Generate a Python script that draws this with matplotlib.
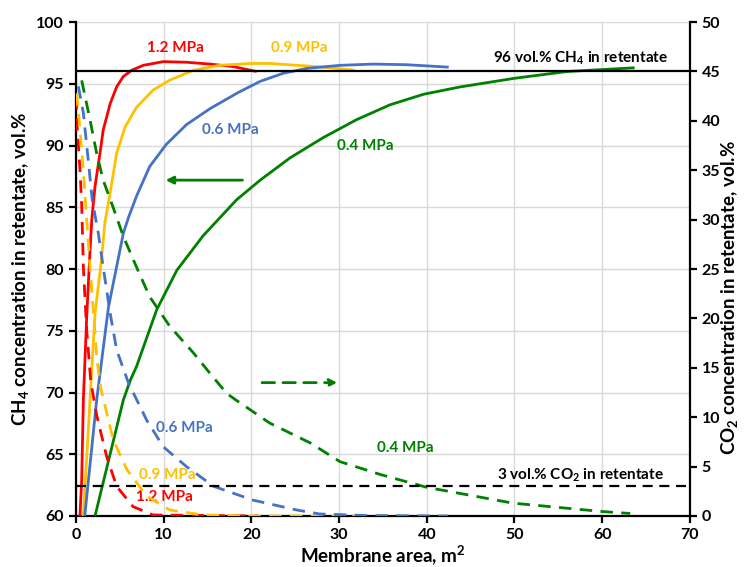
import matplotlib
matplotlib.use('Agg')
import matplotlib.pyplot as plt

plt.rcParams['font.family'] = ['Lato', 'DejaVu Sans']
plt.rcParams['font.weight'] = 'bold'
plt.rcParams['mathtext.fontset'] = 'custom'
plt.rcParams['mathtext.rm'] = 'Lato:bold'
plt.rcParams['mathtext.default'] = 'rm'

# CH4 in retentate (left axis) vs membrane area, m2
ch4_12_x = [0.45, 0.65, 0.84, 1.22, 1.6, 1.8, 2.17, 2.74, 3.1, 3.9, 4.64, 5.4, 6.35,
            7.67, 9.96, 12.6, 15.3, 17.9, 20.6]
ch4_12_y = [60, 62.9, 69.4, 76.1, 81.5, 84.0, 86.7, 89.4, 91.25, 93.4, 94.76, 95.6, 96.1,
            96.5, 96.8, 96.75, 96.6, 96.4, 96.0]
ch4_09_x = [0.84, 1.6, 2.17, 2.9, 3.3, 3.9, 4.64, 5.6, 6.9, 8.8, 10.7, 13.4, 16.4, 19.8,
            22.1, 26.3, 29.0, 31.8]
ch4_09_y = [60, 69.4, 76.4, 80.7, 83.8, 86.2, 89.4, 91.5, 93.1, 94.5, 95.3, 96.1, 96.5, 96.65,
            96.65, 96.45, 96.3, 96.1]
ch4_06_x = [1.0, 2.36, 3.7, 5.4, 6.0, 6.9, 8.4, 10.3, 12.6, 15.3, 18.5, 21.0, 23.6, 26.3,
            30.1, 33.9, 37.7, 42.5]
ch4_06_y = [60, 69.4, 76.9, 82.9, 84.2, 85.9, 88.3, 90.1, 91.7, 93.0, 94.3, 95.2, 95.85, 96.25,
            96.5, 96.6, 96.55, 96.35]
ch4_04_x = [2.17, 5.4, 6.2, 6.9, 9.2, 11.5, 14.5, 18.3, 21.0, 24.4, 28.2, 32.0, 35.8, 39.6,
            43.8, 50.0, 56.0, 63.7]
ch4_04_y = [60, 69.4, 71.0, 72.1, 76.7, 79.9, 82.7, 85.6, 87.2, 89.0, 90.65, 92.1, 93.3, 94.15,
            94.75, 95.45, 96.0, 96.3]

# CO2 in retentate (right axis)
co2_12_x = [0.0, 0.15, 0.46, 0.65, 0.84, 1.22, 1.7, 2.36, 3.5, 4.64, 6.5, 8.8, 20.8]
co2_12_y = [42.4, 39.1, 35.0, 31.5, 25.2, 18.8, 13.5, 10.2, 6.0, 3.0, 0.95, 0.1, 0.0]
co2_09_x = [0.08, 0.46, 0.84, 1.1, 1.6, 2.0, 2.36, 2.8, 4.25, 5.8, 8.06, 10.7, 14.5, 20.0, 31.8]
co2_09_y = [42.8, 39.1, 35.0, 31.6, 25.2, 20.5, 16.1, 13.0, 7.7, 4.7, 2.0, 0.6, 0.1, 0.0, 0.0]
co2_06_x = [0.27, 0.84, 1.4, 1.85, 2.55, 3.1, 3.9, 4.64, 5.97, 8.06, 9.96, 12.6, 15.7, 20.2,
            25.2, 27.8, 33.0, 42.4]
co2_06_y = [43.5, 40.8, 36.0, 32.0, 28.6, 25.2, 20.5, 16.8, 13.5, 9.7, 7.0, 5.0, 3.0, 1.6,
            0.6, 0.2, 0.05, 0.0]
co2_04_x = [0.65, 1.6, 2.36, 3.1, 4.25, 5.4, 6.9, 8.4, 10.7, 13.4, 15.5, 17.2, 18.3, 22.1,
            26.7, 30.1, 34.7, 40.0, 49.8, 60.0, 63.2]
co2_04_y = [44.1, 40.1, 36.7, 34.0, 31.2, 28.3, 25.2, 22.2, 19.2, 16.5, 14.2, 12.4, 11.7, 9.4,
            7.4, 5.5, 4.2, 2.9, 1.3, 0.45, 0.25]

ch4_target = 96
co2_target = 3

red = '#FF0000'
orange = '#FFC000'
blue = '#4472C4'
green = '#008000'

fig = plt.figure(figsize=(7.45, 5.67), dpi=100)
ax = fig.add_axes([0.102, 0.09, 0.824, 0.871])
ax2 = ax.twinx()

lw = 2.0
for x, y, c in [(ch4_12_x, ch4_12_y, red), (ch4_09_x, ch4_09_y, orange),
                (ch4_06_x, ch4_06_y, blue), (ch4_04_x, ch4_04_y, green)]:
    ax.plot(x, y, color=c, lw=lw, solid_capstyle='butt', solid_joinstyle='round', zorder=3)

for x, y, c in [(co2_12_x, co2_12_y, red), (co2_09_x, co2_09_y, orange),
                (co2_06_x, co2_06_y, blue), (co2_04_x, co2_04_y, green)]:
    ax2.plot(x, y, color=c, lw=lw, dashes=(4.5, 3), zorder=3)

ax.axhline(ch4_target, color='black', lw=1.6, zorder=4)
ax2.axhline(co2_target, color='black', lw=1.6, dashes=(4.5, 3), zorder=4)

ax.set_xlim(0, 70)
ax.set_ylim(60, 100)
ax2.set_ylim(0, 50)
ax.set_xticks(range(0, 71, 10))
ax.set_yticks(range(60, 101, 5))
ax2.set_yticks(range(0, 51, 5))

ax.grid(True, color='#D9D9D9', lw=1)
ax.set_axisbelow(True)
for a in (ax, ax2):
    a.spines['top'].set_visible(False)
    for s in ('left', 'right', 'bottom'):
        a.spines[s].set_linewidth(1.6)
    a.tick_params(width=1.6, length=5, labelsize=11.5)
    for lab in a.get_xticklabels() + a.get_yticklabels():
        lab.set_fontweight('bold')
ax.spines['right'].set_visible(False)
ax2.spines['left'].set_visible(False)
ax2.spines['bottom'].set_visible(False)

ax.set_xlabel('Membrane area, m$^2$', fontsize=13.5, fontweight='bold', labelpad=1)
ax.set_ylabel('CH$_4$ concentration in retentate, vol.%', fontsize=13.5,
              fontweight='bold', labelpad=4)
fig.text(0.979, 0.475, 'CO$_2$ concentration in retentate, vol.%', fontsize=13.5,
         fontweight='bold', rotation=90, ha='center', va='center')

fs = 11
ax.text(11.3, 97.9, '1.2 MPa', color=red, fontsize=fs, ha='center', va='center')
ax.text(25.5, 97.9, '0.9 MPa', color=orange, fontsize=fs, ha='center', va='center')
ax.text(17.6, 91.3, '0.6 MPa', color=blue, fontsize=fs, ha='center', va='center')
ax.text(33.0, 90.0, '0.4 MPa', color=green, fontsize=fs, ha='center', va='center')
ax.text(12.4, 67.1, '0.6 MPa', color=blue, fontsize=fs, ha='center', va='center')
ax.text(37.5, 65.5, '0.4 MPa', color=green, fontsize=fs, ha='center', va='center')
ax.text(10.4, 63.3, '0.9 MPa', color=orange, fontsize=fs, ha='center', va='center')
ax.text(10.1, 61.5, '1.2 MPa', color=red, fontsize=fs, ha='center', va='center')
ax.text(57.5, 97.1, '96 vol.% CH$_4$ in retentate', color='black', fontsize=fs,
        ha='center', va='center')
ax.text(57.5, 63.3, '3 vol.% CO$_2$ in retentate', color='black', fontsize=fs,
        ha='center', va='center')

ax.annotate('', xy=(9.9, 87.2), xytext=(19.3, 87.2),
            arrowprops=dict(arrowstyle='-|>', color=green, lw=2, mutation_scale=11))
ax.annotate('', xy=(30.1, 70.8), xytext=(20.9, 70.8),
            arrowprops=dict(arrowstyle='-|>', color=green, lw=2, mutation_scale=11,
                            linestyle=(0, (4.5, 3))))

fig.savefig('out.png', dpi=100)
